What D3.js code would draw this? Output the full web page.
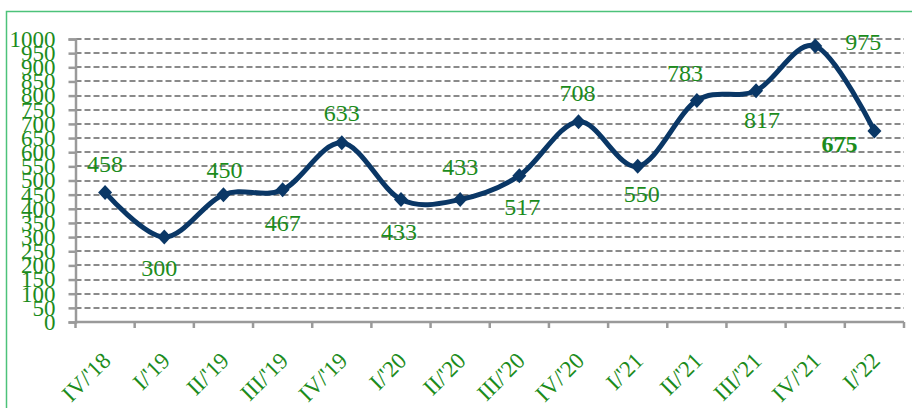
<!DOCTYPE html>
<html>
<head>
<meta charset="utf-8">
<script src="https://cdn.jsdelivr.net/npm/d3@7"></script>
<style>
  html, body { margin: 0; padding: 0; background: #fff; }
  svg { display: block; }
  text { font-family: "Liberation Serif", "DejaVu Serif", serif; }
</style>
</head>
<body>
<svg id="chart" width="912" height="408"></svg>
<script>
// ---- data ----
const categories = ["IV/'18", "I/'19", "II/'19", "III/'19", "IV/'19", "I/'20", "II/'20", "III/'20", "IV/'20", "I/'21", "II/'21", "III/'21", "IV/'21", "I/'22"];
const values = [458, 300, 450, 467, 633, 433, 433, 517, 708, 550, 783, 817, 975, 675];
const yTicks = [0, 50, 100, 150, 200, 250, 300, 350, 400, 450, 500, 550, 600, 650, 700, 750, 800, 850, 900, 950, 1000];

// label placement (layout, not data)
const labelPlacement = [
  [0, -29], [-5, 30], [1, -25], [0, 33], [0, -30], [-2, 32], [0, -33],
  [3, 31], [-1, -29], [4, 27], [-12, -28], [6, 29], [48, -4], [-35, 13]
];
const boldLabel = [false, false, false, false, false, false, false, false, false, false, false, false, false, true];

const green = "#1c8c1c";
const navy = "#0a3766";
const gridGray = "#8a8a8a";
const axisGray = "#9a9a9a";

const svg = d3.select("#chart");

// outer border
svg.append("rect")
  .attr("x", 6.5).attr("y", 11.5)
  .attr("width", 920).attr("height", 420)
  .attr("fill", "none")
  .attr("stroke", "#4cc27a")
  .attr("stroke-width", 1.5);

const plot = { left: 75.5, right: 904, top: 39, bottom: 322 };

const x = d3.scaleBand().domain(categories).range([plot.left, plot.right]).padding(0);
const y = d3.scaleLinear().domain([0, 1000]).range([plot.bottom, plot.top]);

// gridlines
svg.append("g").selectAll("line")
  .data(yTicks.filter(d => d > 0))
  .join("line")
  .attr("x1", plot.left).attr("x2", plot.right)
  .attr("y1", d => Math.round(y(d))).attr("y2", d => Math.round(y(d)))
  .attr("stroke", gridGray)
  .attr("stroke-width", 2)
  .attr("stroke-dasharray", "6,3");

// y axis
const yAxis = d3.axisLeft(y).tickValues(yTicks).tickFormat(d3.format("d")).tickSize(7).tickPadding(13);
const gy = svg.append("g").attr("transform", `translate(${plot.left},0)`).call(yAxis);
gy.select(".domain").attr("stroke", axisGray).attr("stroke-width", 2.5);
gy.selectAll(".tick line").attr("stroke", axisGray).attr("stroke-width", 2.5);
gy.selectAll(".tick text")
  .attr("fill", green)
  .attr("font-size", 23)
  .attr("font-family", "Liberation Serif, serif");

// x axis (ticks at band boundaries)
const boundaries = categories.map(c => x(c)).concat([plot.right]);
const gx = svg.append("g");
gx.append("line")
  .attr("x1", plot.left).attr("x2", plot.right)
  .attr("y1", plot.bottom).attr("y2", plot.bottom)
  .attr("stroke", axisGray).attr("stroke-width", 2.5);
gx.selectAll("line.tk")
  .data(boundaries)
  .join("line").attr("class", "tk")
  .attr("x1", d => d).attr("x2", d => d)
  .attr("y1", plot.bottom).attr("y2", plot.bottom + 6)
  .attr("stroke", axisGray).attr("stroke-width", 2.5);
gx.selectAll("text")
  .data(categories)
  .join("text")
  .attr("transform", d => `translate(${x(d) + x.bandwidth() / 2 + 7},${plot.bottom + 40}) rotate(-45)`)
  .attr("text-anchor", "end")
  .attr("fill", green)
  .attr("font-size", 23)
  .text(d => d);

// line
const pts = categories.map((c, i) => [x(c) + x.bandwidth() / 2, y(values[i])]);
const line = d3.line().curve(d3.curveCardinal.tension(0));
svg.append("path")
  .attr("d", line(pts))
  .attr("fill", "none")
  .attr("stroke", navy)
  .attr("stroke-width", 5)
  .attr("stroke-linejoin", "round");

// markers (diamonds)
svg.append("g").selectAll("path")
  .data(pts)
  .join("path")
  .attr("transform", d => `translate(${d[0]},${d[1]})`)
  .attr("d", "M0,-7.5L7,0L0,7.5L-7,0Z")
  .attr("fill", navy);

// data labels
svg.append("g").selectAll("text")
  .data(values)
  .join("text")
  .attr("x", (d, i) => pts[i][0] + labelPlacement[i][0])
  .attr("y", (d, i) => pts[i][1] + labelPlacement[i][1])
  .attr("dy", "0.35em")
  .attr("text-anchor", "middle")
  .attr("fill", green)
  .attr("font-size", 24)
  .attr("font-weight", (d, i) => boldLabel[i] ? "bold" : "normal")
  .text(d => d);
</script>
</body>
</html>
